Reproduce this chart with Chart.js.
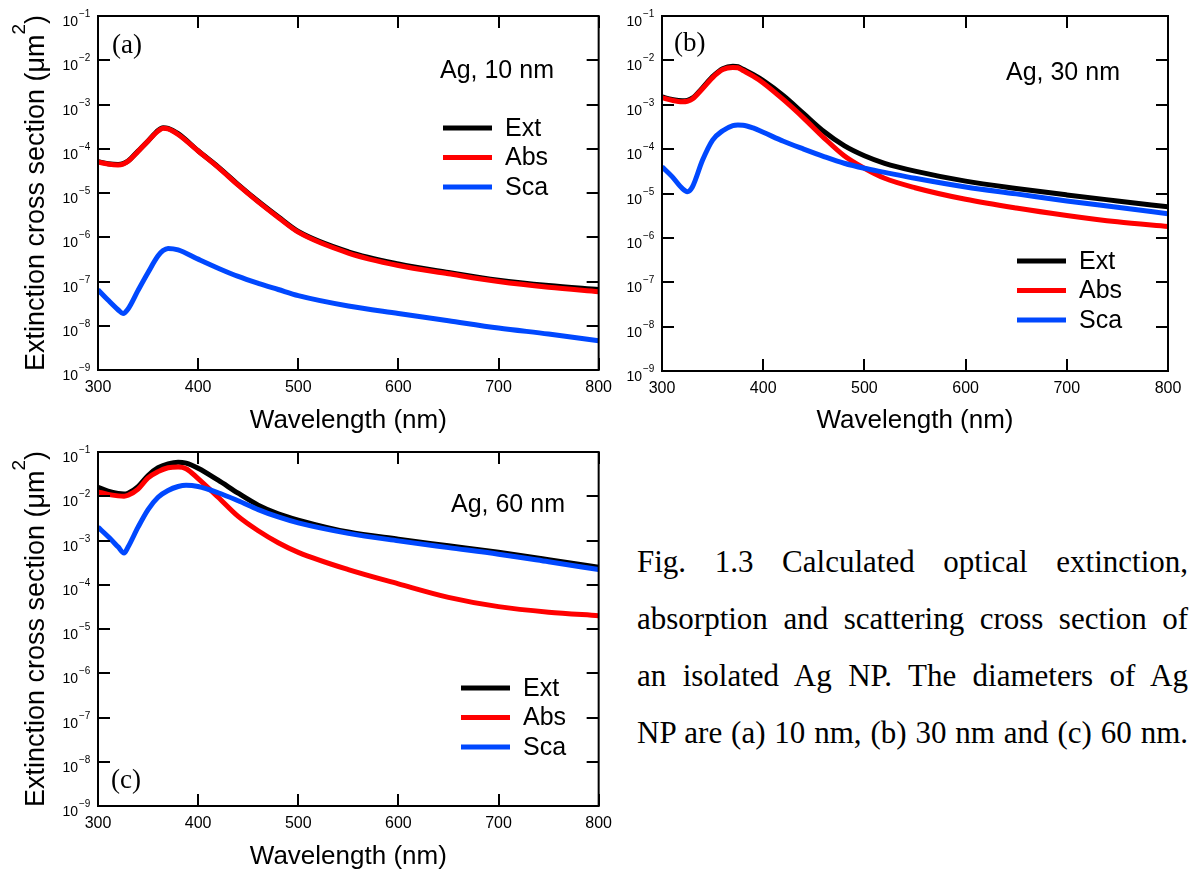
<!DOCTYPE html>
<html>
<head>
<meta charset="utf-8">
<script src="https://cdn.jsdelivr.net/npm/chart.js@4.4.0/dist/chart.umd.min.js"></script>
<style>
  html, body { margin: 0; padding: 0; background: #fff; overflow: hidden; }
  body { width: 1191px; height: 874px; position: relative; }
  canvas { position: absolute; }
  #caption {
    position: absolute; left: 637px; top: 533px; width: 551px;
    font-family: "Liberation Serif", "Times New Roman", serif;
    font-size: 31px; line-height: 57px; color: #000;
  }
  #caption div { text-align: justify; text-align-last: justify; }
</style>
</head>
<body>
<canvas id="chartA" width="620" height="440" style="left:0;top:0;width:620px;height:440px"></canvas>
<canvas id="chartB" width="571" height="440" style="left:620px;top:0;width:571px;height:440px"></canvas>
<canvas id="chartC" width="620" height="440" style="left:0;top:436px;width:620px;height:440px"></canvas>
<div id="caption">
  <div>Fig. 1.3 Calculated optical extinction,</div>
  <div>absorption and scattering cross section of</div>
  <div>an isolated Ag NP. The diameters of Ag</div>
  <div>NP are (a) 10 nm, (b) 30 nm and (c) 60 nm.</div>
</div>
<script>
// tick values for the log axis (um^2)
const yTicks = [1e-9, 1e-8, 1e-7, 1e-6, 1e-5, 1e-4, 1e-3, 1e-2, 1e-1];

// (a) Ag, 10 nm
const waveA = [300, 310, 320, 325, 330, 340, 350, 360, 365, 370, 380, 400, 420, 440, 460, 480, 500, 550, 600, 650, 700, 750, 800];
const extA = [5.1e-5, 4.6e-5, 4.4e-5, 4.6e-5, 5.3e-5, 8.9e-5, 1.5e-4, 2.6e-4, 3.0e-4, 2.9e-4, 2.2e-4, 9.0e-5, 3.9e-5, 1.55e-5, 6.5e-6, 2.9e-6, 1.35e-6, 4.7e-7, 2.5e-7, 1.6e-7, 1.07e-7, 8.1e-8, 6.6e-8];
const absA = [5.0e-5, 4.5e-5, 4.3e-5, 4.5e-5, 5.2e-5, 8.7e-5, 1.5e-4, 2.5e-4, 2.9e-4, 2.8e-4, 2.1e-4, 8.9e-5, 3.8e-5, 1.5e-5, 6.3e-6, 2.8e-6, 1.3e-6, 4.4e-7, 2.3e-7, 1.5e-7, 1.0e-7, 7.4e-8, 5.9e-8];
const scaA = [6.5e-8, 3.8e-8, 2.3e-8, 1.9e-8, 2.4e-8, 6.3e-8, 1.6e-7, 3.8e-7, 5.0e-7, 5.6e-7, 5.2e-7, 3.2e-7, 2.0e-7, 1.3e-7, 9.1e-8, 6.6e-8, 4.8e-8, 2.8e-8, 1.9e-8, 1.3e-8, 8.9e-9, 6.5e-9, 4.6e-9];

// (b) Ag, 30 nm
const waveB = [300, 310, 320, 325, 330, 340, 350, 360, 370, 375, 380, 390, 400, 420, 440, 460, 480, 500, 520, 550, 600, 650, 700, 750, 800];
const extB = [1.5e-3, 1.32e-3, 1.23e-3, 1.26e-3, 1.41e-3, 2.4e-3, 4.3e-3, 6.5e-3, 7.4e-3, 7.2e-3, 6.3e-3, 4.8e-3, 3.5e-3, 1.6e-3, 6.3e-4, 2.5e-4, 1.2e-4, 7.1e-5, 4.8e-5, 3.2e-5, 1.9e-5, 1.3e-5, 9.3e-6, 6.8e-6, 5.0e-6];
const absB = [1.45e-3, 1.26e-3, 1.17e-3, 1.2e-3, 1.35e-3, 2.3e-3, 4.1e-3, 6.2e-3, 6.9e-3, 6.8e-3, 5.9e-3, 4.4e-3, 3.1e-3, 1.3e-3, 5.0e-4, 1.8e-4, 7.1e-5, 3.7e-5, 2.2e-5, 1.35e-5, 7.4e-6, 4.7e-6, 3.2e-6, 2.3e-6, 1.8e-6];
const scaB = [4.0e-5, 2.4e-5, 1.3e-5, 1.1e-5, 1.4e-5, 5.6e-5, 1.6e-4, 2.6e-4, 3.4e-4, 3.5e-4, 3.47e-4, 3.0e-4, 2.4e-4, 1.5e-4, 1.0e-4, 6.8e-5, 4.8e-5, 3.7e-5, 3.0e-5, 2.2e-5, 1.4e-5, 9.8e-6, 6.8e-6, 4.9e-6, 3.5e-6];

// (c) Ag, 60 nm
const waveC = [300, 310, 320, 326, 330, 340, 350, 360, 370, 380, 388, 400, 420, 440, 460, 480, 500, 550, 600, 650, 700, 750, 800];
const extC = [1.6e-2, 1.3e-2, 1.15e-2, 1.12e-2, 1.17e-2, 1.66e-2, 2.95e-2, 4.4e-2, 5.4e-2, 5.9e-2, 5.6e-2, 4.3e-2, 2.3e-2, 1.17e-2, 6.3e-3, 4.0e-3, 2.9e-3, 1.55e-3, 1.07e-3, 7.6e-4, 5.4e-4, 3.7e-4, 2.5e-4];
const absC = [1.26e-2, 1.1e-2, 1.02e-2, 1.0e-2, 1.05e-2, 1.45e-2, 2.6e-2, 3.6e-2, 4.4e-2, 4.6e-2, 4.2e-2, 2.5e-2, 9.5e-3, 3.5e-3, 1.66e-3, 8.9e-4, 5.4e-4, 2.2e-4, 1.05e-4, 5.2e-5, 3.2e-5, 2.4e-5, 2.0e-5];
const scaC = [2.0e-3, 1.23e-3, 7.2e-4, 5.2e-4, 7.1e-4, 2.0e-3, 5.0e-3, 9.5e-3, 1.35e-2, 1.66e-2, 1.78e-2, 1.66e-2, 1.2e-2, 7.9e-3, 5.0e-3, 3.4e-3, 2.5e-3, 1.45e-3, 9.8e-4, 6.9e-4, 4.9e-4, 3.3e-4, 2.2e-4];

const SANS = '"Liberation Sans", Arial, Helvetica, sans-serif';
const SERIF = '"Liberation Serif", "Times New Roman", serif';

// frame, inward ticks, 10^n labels, y title, legend and panel texts
const panelDecor = {
  id: 'panelDecor',
  afterDatasetsDraw(chart, args, opts) {
    const ctx = chart.ctx;
    const { left, right, top, bottom } = chart.chartArea;
    const xs = chart.scales.x, ys = chart.scales.y;
    ctx.save();
    ctx.strokeStyle = '#000';
    ctx.lineWidth = 2;
    ctx.beginPath();
    xs.ticks.forEach(t => {
      const px = Math.round(xs.getPixelForValue(t.value));
      ctx.moveTo(px, bottom); ctx.lineTo(px, bottom - 12);
      ctx.moveTo(px, top); ctx.lineTo(px, top + 12);
    });
    ys.ticks.forEach(t => {
      const py = Math.round(ys.getPixelForValue(t.value));
      ctx.moveTo(left, py); ctx.lineTo(left + 12, py);
      ctx.moveTo(right, py); ctx.lineTo(right - 12, py);
    });
    ctx.stroke();
    ctx.strokeRect(left, top, right - left, bottom - top);

    ctx.fillStyle = '#000';
    ctx.textBaseline = 'alphabetic';
    ys.ticks.forEach(t => {
      const py = ys.getPixelForValue(t.value);
      const e = Math.round(Math.log10(t.value));
      ctx.font = '14px ' + SANS;
      ctx.textAlign = 'right';
      ctx.fillText('10', left - 20, py + 10);
      ctx.font = '10px ' + SANS;
      ctx.textAlign = 'left';
      ctx.fillText('\u2212' + Math.abs(e), left - 19, py + 1);
    });

    // rotated y title with a raised "2"
    if (opts.yTitle) {
      const main = 'Extinction cross section (\u03bcm';
      ctx.font = '27px ' + SANS;
      const w1 = ctx.measureText(main).width;
      const w3 = ctx.measureText(')').width;
      ctx.font = '19px ' + SANS;
      const w2 = ctx.measureText('2').width;
      const total = w1 + w2 + w3;
      ctx.save();
      ctx.translate(opts.yTitle.x, (top + bottom) / 2);
      ctx.rotate(-Math.PI / 2);
      ctx.textAlign = 'left';
      ctx.textBaseline = 'alphabetic';
      let sx = -total / 2;
      ctx.font = '27px ' + SANS;
      ctx.fillText(main, sx, 0);
      sx += w1;
      ctx.font = '19px ' + SANS;
      ctx.fillText('2', sx, -19);
      sx += w2;
      ctx.font = '27px ' + SANS;
      ctx.fillText(')', sx, 0);
      ctx.restore();
    }

    // legend, same order as the datasets
    const lg = opts.legend;
    chart.data.datasets.forEach((ds, i) => {
      const y = lg.y + i * 29.5;
      ctx.strokeStyle = ds.borderColor;
      ctx.lineWidth = 5;
      ctx.beginPath();
      ctx.moveTo(lg.x, y); ctx.lineTo(lg.x + 49, y);
      ctx.stroke();
      ctx.font = '25px ' + SANS;
      ctx.textAlign = 'left';
      ctx.textBaseline = 'middle';
      ctx.fillText(ds.label, lg.x + 62, y + 1);
    });

    ctx.textBaseline = 'alphabetic';
    ctx.textAlign = 'left';
    ctx.font = '25px ' + SANS;
    ctx.fillText(opts.note.text, opts.note.x, opts.note.y);
    ctx.font = '27px ' + SERIF;
    ctx.fillText(opts.tag.text, opts.tag.x, opts.tag.y);
    ctx.restore();
  }
};

function makeDatasets(ext, abs, sca) {
  return [
    { label: 'Ext', data: ext, borderColor: '#000000', order: 3 },
    { label: 'Abs', data: abs, borderColor: '#ff0000', order: 2 },
    { label: 'Sca', data: sca, borderColor: '#0048ff', order: 1 }
  ].map(d => Object.assign(d, {
    borderWidth: 5, pointRadius: 0, fill: false, cubicInterpolationMode: 'monotone'
  }));
}

function makePanel(id, waves, ext, abs, sca, o) {
  new Chart(document.getElementById(id), {
    type: 'line',
    data: { labels: waves, datasets: makeDatasets(ext, abs, sca) },
    options: {
      responsive: false,
      animation: false,
      devicePixelRatio: 1,
      layout: { padding: o.padding },
      plugins: {
        legend: { display: false },
        tooltip: { enabled: false },
        panelDecor: o.decor
      },
      scales: {
        x: {
          type: 'linear', min: 300, max: 800,
          grid: { display: false, drawTicks: false },
          border: { display: false },
          ticks: { stepSize: 100, color: '#000', padding: 8, maxRotation: 0, font: { size: 16, family: SANS } },
          title: {
            display: true, text: 'Wavelength (nm)', color: '#000',
            font: { size: 26, family: SANS }, padding: { top: 0, bottom: 4 }
          },
          afterFit: s => { s.height = o.xHeight; }
        },
        y: {
          type: 'logarithmic', min: 1e-9, max: 1e-1,
          grid: { display: false, drawTicks: false },
          border: { display: false },
          ticks: { display: false },
          afterBuildTicks: s => { s.ticks = yTicks.map(v => ({ value: v })); },
          afterFit: s => { s.width = o.yWidth; }
        }
      }
    },
    plugins: [panelDecor]
  });
}

makePanel('chartA', waveA, extA, absA, scaA, {
  padding: { top: 16, right: 17, left: 0, bottom: 0 }, yWidth: 98, xHeight: 70,
  decor: { yTitle: { x: 44 }, tag: { text: '(a)', x: 112, y: 53 }, note: { text: 'Ag, 10 nm', x: 440, y: 78 }, legend: { x: 443, y: 128 } }
});
makePanel('chartB', waveB, extB, absB, scaB, {
  padding: { top: 16, right: 23, left: 0, bottom: 0 }, yWidth: 42, xHeight: 69,
  decor: { yTitle: null, tag: { text: '(b)', x: 54, y: 51 }, note: { text: 'Ag, 30 nm', x: 386, y: 80 }, legend: { x: 397, y: 261 } }
});
makePanel('chartC', waveC, extC, absC, scaC, {
  padding: { top: 16, right: 16, left: 0, bottom: 0 }, yWidth: 98, xHeight: 70,
  decor: { yTitle: { x: 44 }, tag: { text: '(c)', x: 111, y: 352 }, note: { text: 'Ag, 60 nm', x: 451, y: 76 }, legend: { x: 461, y: 252 } }
});
</script>
</body>
</html>
